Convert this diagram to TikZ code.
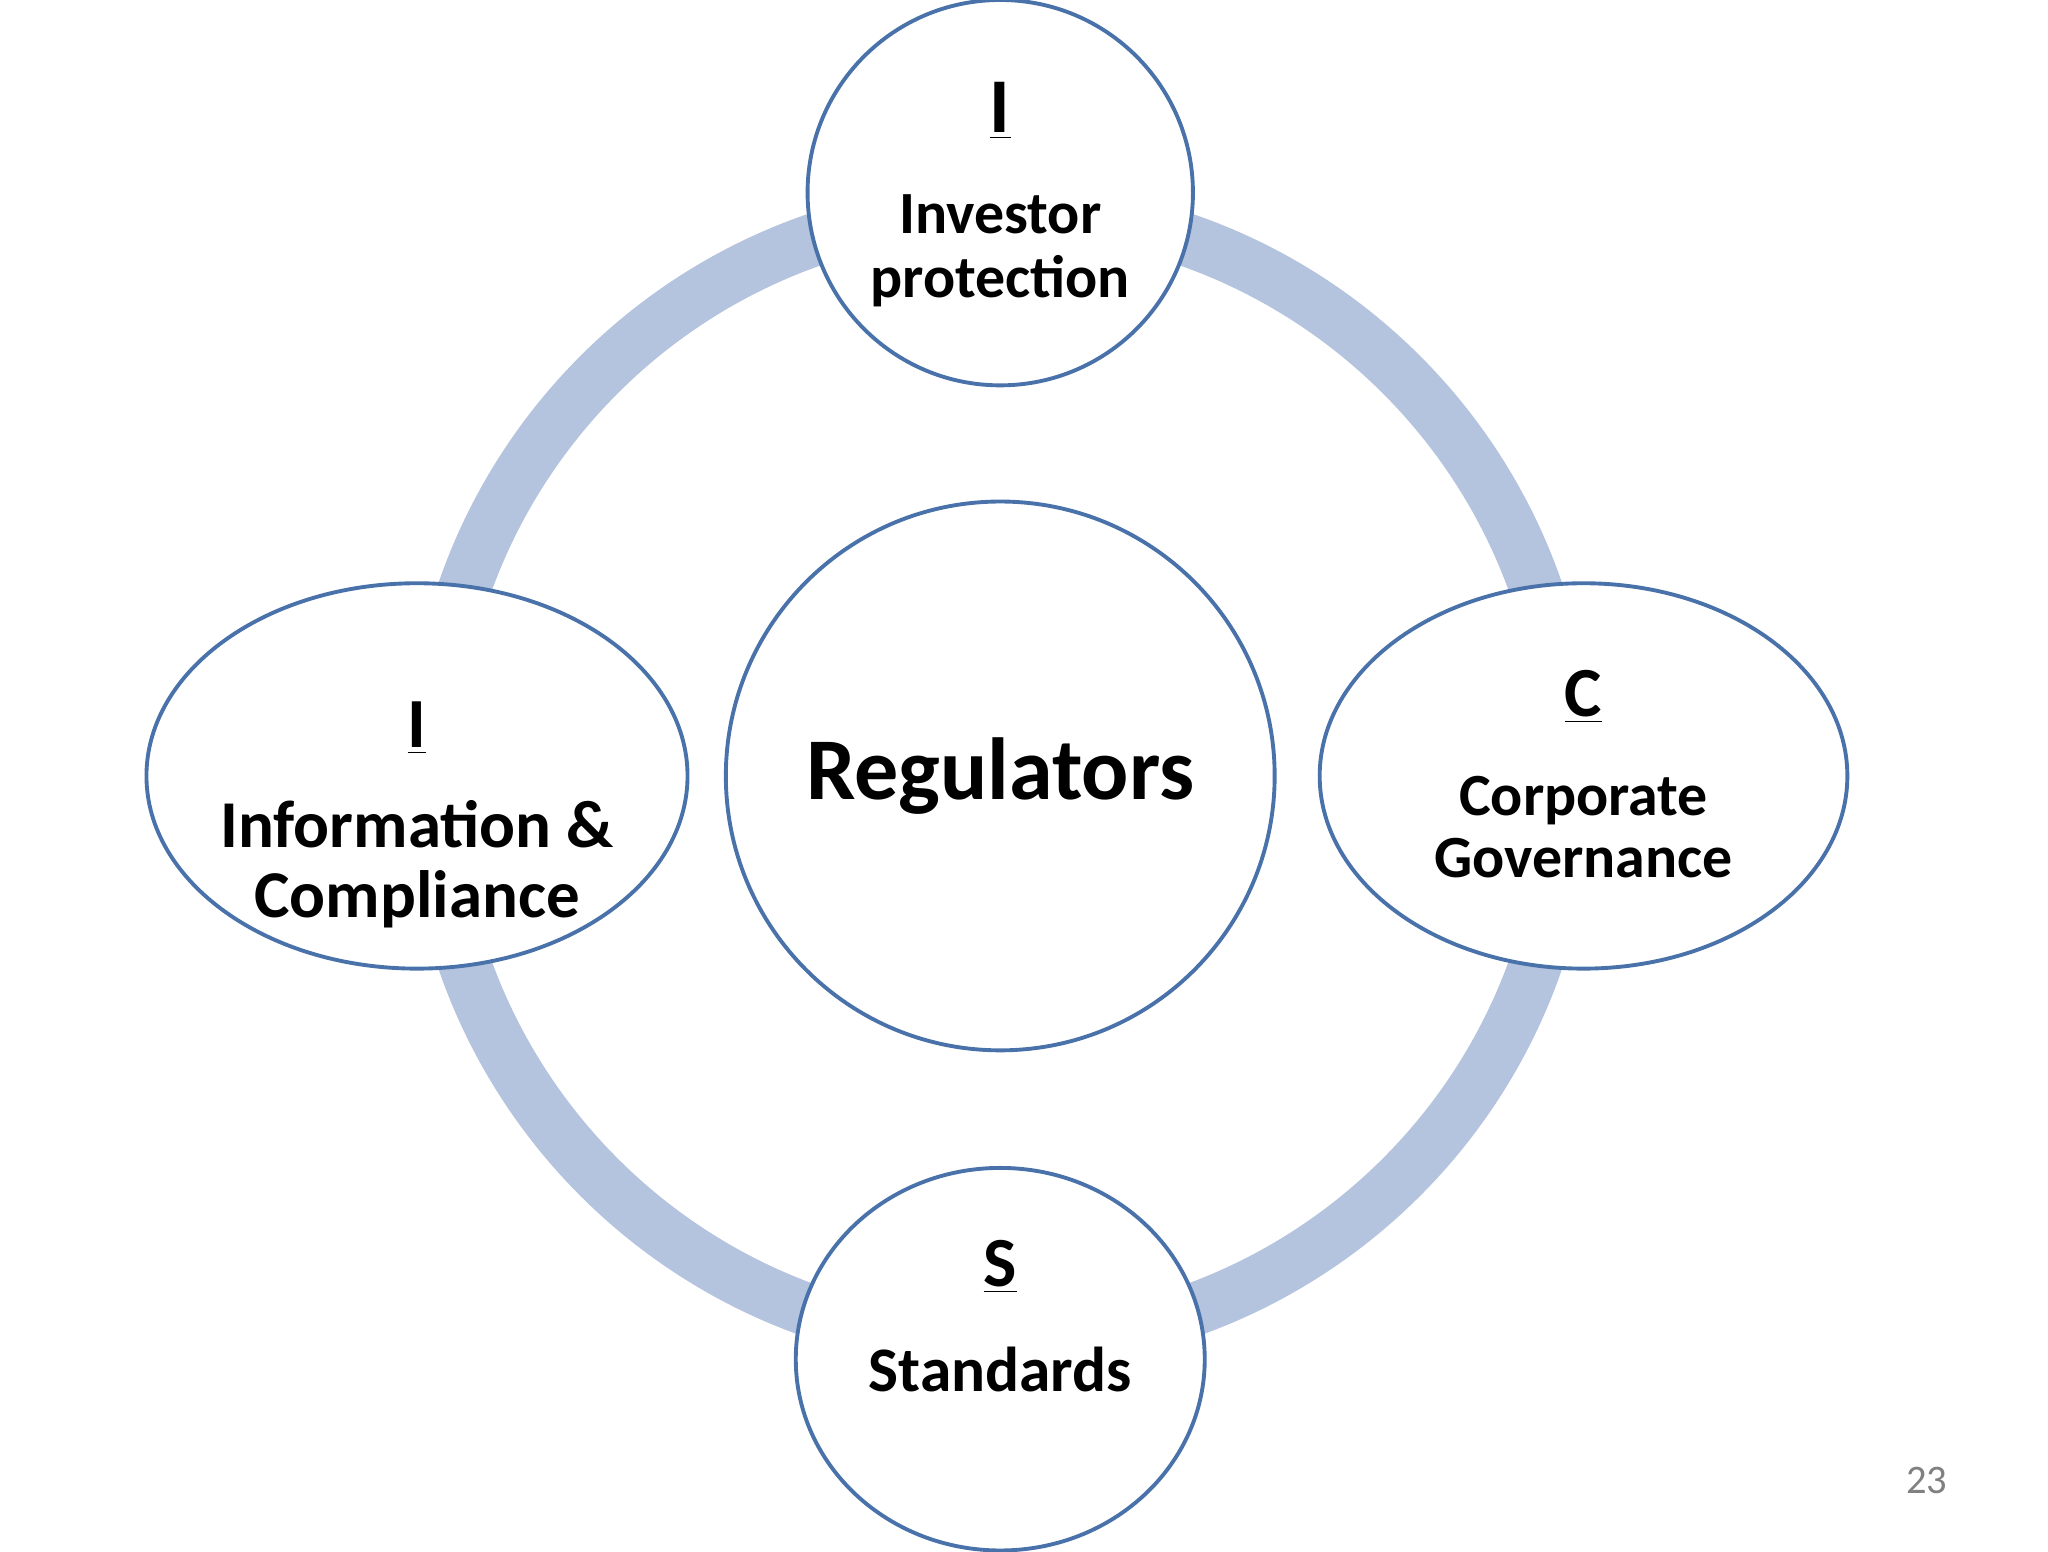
\documentclass[tikz,border=0pt]{standalone}
\usepackage{fontspec}
\setmainfont{Carlito}
\usetikzlibrary{shapes.geometric}
\definecolor{ringc}{HTML}{B4C3DE}
\definecolor{edgec}{HTML}{4A72AA}
\begin{document}
\begin{tikzpicture}[x=0.3746pt,y=-0.3746pt,
  blob/.style={ellipse,draw=edgec,line width=1.1pt,fill=white,inner sep=0pt},
  lbl/.style={font=\bfseries,align=center,inner sep=0pt}]
\useasboundingbox[fill=white] (0,0) rectangle (1552,1176);
\draw[ringc,line width=15pt] (758,588) circle[radius=430];
\node[blob,minimum width=109.4pt,minimum height=109.4pt] (top) at (758,146) {};
\node[blob,minimum width=155.8pt,minimum height=155.8pt] (mid) at (758,588) {};
\node[blob,minimum width=153.6pt,minimum height=109.4pt] (left) at (316,588) {};
\node[blob,minimum width=149.8pt,minimum height=109.4pt] (right) at (1200,588) {};
\node[blob,minimum width=116.1pt,minimum height=108.6pt] (bot) at (758,1030) {};
\node[lbl,font=\bfseries\fontsize{22}{26}\selectfont] (tl) at (758,84) {\underline{I}};
\node[lbl,font=\bfseries\fontsize{17}{18}\selectfont] (tt) at (758,190) {Investor\\protection};
\node[lbl,font=\bfseries\fontsize{25}{30}\selectfont] (mt) at (758,588) {Regulators};
\node[lbl,font=\bfseries\fontsize{20}{24}\selectfont] (ll) at (316,552) {\underline{I}};
\node[lbl,font=\bfseries\fontsize{19}{20}\selectfont] (lt) at (316,655) {Information \&\\Compliance};
\node[lbl,font=\bfseries\fontsize{20}{24}\selectfont] (rl) at (1200,528) {\underline{C}};
\node[lbl,font=\bfseries\fontsize{17}{17.6}\selectfont] (rt) at (1200,627) {Corporate\\Governance};
\node[lbl,font=\bfseries\fontsize{20}{24}\selectfont] (bl) at (758,960) {\underline{S}};
\node[lbl,font=\bfseries\fontsize{18}{22}\selectfont] (bt) at (758,1038) {Standards};
\node[font=\fontsize{11.5}{14}\selectfont,text=gray,inner sep=0pt] (pg) at (1460,1122) {23};
\end{tikzpicture}
\end{document}
